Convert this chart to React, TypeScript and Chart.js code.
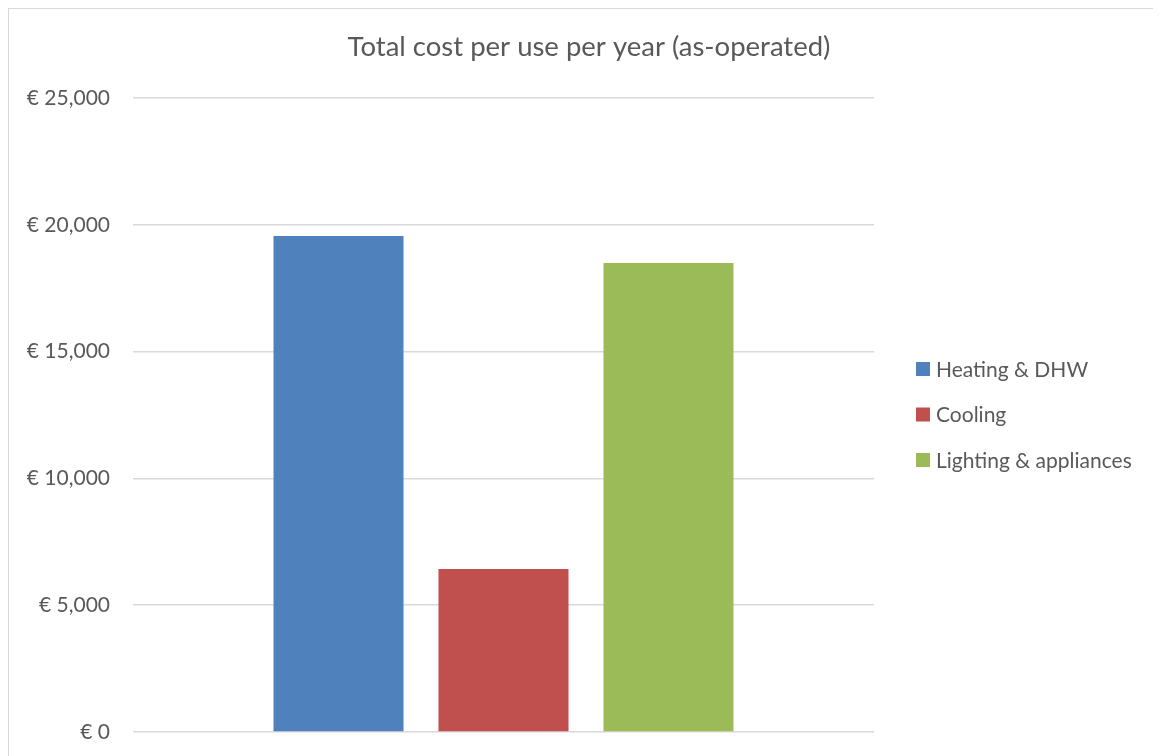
import React, { useEffect, useRef } from "react";
import { Chart, registerables } from "chart.js";

Chart.register(...registerables);

const categories = [""];
const seriesNames = ["Heating & DHW", "Cooling", "Lighting & appliances"];
const seriesValues = [19560, 6430, 18490];
const seriesColors = ["#4F81BD", "#C0504D", "#9BBB59"];
const yTicks = [0, 5000, 10000, 15000, 20000, 25000];
const chartTitle = "Total cost per use per year (as-operated)";

const FONT = "Lato, 'Open Sans', sans-serif";
const TEXT = "#595959";

const legendPlugin = {
  id: "customLegend",
  afterDraw(chart: any) {
    const ctx = chart.ctx;
    ctx.save();
    ctx.font = `21px ${FONT}`;
    ctx.textBaseline = "middle";
    ctx.textAlign = "left";
    chart.data.datasets.forEach((ds: any, i: number) => {
      const y = 360 + i * 45.5;
      ctx.fillStyle = ds.backgroundColor;
      ctx.fillRect(907, y - 7, 14, 14);
      ctx.fillStyle = TEXT;
      ctx.fillText(ds.label, 927, y + 1);
    });
    ctx.restore();
  },
};

export default function App() {
  const ref = useRef<HTMLCanvasElement | null>(null);
  useEffect(() => {
    document.body.style.overflow = "hidden";
    const canvas = ref.current;
    if (!canvas) return;
    const chart = new Chart(canvas, {
      type: "bar",
      data: {
        labels: categories,
        datasets: seriesNames.map((name, i) => ({
          label: name,
          data: [seriesValues[i]],
          backgroundColor: seriesColors[i],
          borderWidth: 0,
          categoryPercentage: 0.668,
          barPercentage: 0.788,
          yAxisID: "y",
        })),
      },
      options: {
        responsive: false,
        animation: false,
        layout: { padding: { top: 0, right: 0, bottom: 37, left: 0 } },
        plugins: {
          legend: { display: false },
          tooltip: { enabled: false },
          title: {
            display: true,
            text: chartTitle,
            color: TEXT,
            font: { family: FONT, size: 27.5, weight: "normal" },
            padding: { top: 21.5, bottom: 34.5 },
          },
        },
        scales: {
          x: { display: false },
          y: {
            position: "left",
            min: 0,
            max: 25000,
            afterBuildTicks: (s: any) => {
              s.ticks = yTicks.map((v) => ({ value: v }));
            },
            afterFit: (s: any) => {
              s.width = 124;
            },
            grid: { color: "#d9d9d9", lineWidth: 1.5, drawTicks: false },
            border: { display: false },
            ticks: {
              color: TEXT,
              padding: 23,
              font: { family: FONT, size: 21 },
              callback: (v: any) => "€ " + Number(v).toLocaleString("en-US"),
            },
          },
          legendSpace: {
            type: "linear",
            position: "right",
            display: true,
            grid: { display: false, drawTicks: false },
            border: { display: false },
            ticks: { display: false },
            afterFit: (s: any) => {
              s.width = 295;
            },
          },
        },
      },
      plugins: [legendPlugin],
    });
    return () => chart.destroy();
  }, []);
  return (
    <div style={{ width: 1160, height: 760, border: "1px solid #d9d9d9" }}>
      <canvas ref={ref} width={1160} height={760} style={{ display: "block" }} />
    </div>
  );
}
